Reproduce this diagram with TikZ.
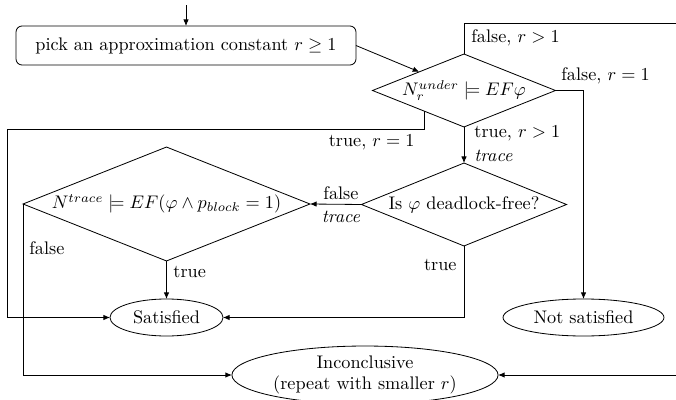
\documentclass[tikz,border=0pt]{standalone}
\usetikzlibrary{shapes.geometric,arrows.meta}

\begin{document}
\begin{tikzpicture}[x=0.5486pt,y=-0.5486pt,
  line width=0.45pt,
  arr/.style={-{Latex[length=3.6pt,width=3pt]}},
  decision/.style={draw,diamond,inner sep=0pt,outer sep=0pt},
  outcome/.style={draw,ellipse,inner sep=0pt,outer sep=0pt,align=center},
  stepbox/.style={draw,rectangle,rounded corners=3.3pt,inner sep=0pt,outer sep=0pt},
  lbl/.style={inner sep=0pt}]

\useasboundingbox (0,0) rectangle (676,400);
\clip (0,0) rectangle (676,400);

% nodes
\coordinate (start) at (186,5);
\node[stepbox,minimum width=186.5pt,minimum height=21.4pt] (pick) at (186,45.5)
  {pick an approximation constant $r \geq 1$};
\node[decision,shape aspect=2.5,minimum width=100.4pt,minimum height=40pt] (d1) at (464,90.5)
  {$N_r^{under} \models EF\varphi$};
\node[decision,shape aspect=2.47,minimum width=112.5pt,minimum height=45.5pt] (d2) at (464,204.5)
  {Is $\varphi$ deadlock-free?};
\node[decision,shape aspect=2.52,minimum width=157.4pt,minimum height=62.5pt] (d3) at (166.5,204)
  {$N^{trace} \models EF(\varphi \wedge p_{block} = 1)$};
\node[outcome,minimum width=62pt,minimum height=20.3pt] (sat) at (166.5,317.5) {Satisfied};
\node[outcome,minimum width=88.3pt,minimum height=20.3pt] (notsat) at (583.5,317.5) {Not satisfied};
\node[outcome,minimum width=146pt,minimum height=31.8pt] (inc) at (365,375)
  {Inconclusive\\(repeat with smaller $r$)};

\path (d1.west) -- (d1.south) coordinate[pos=0.565] (d1sw);

% connectors
\draw[arr] (start) -- (pick.north);
\draw[arr] (pick.east) -- (d1);
\draw[arr] (d1.north) -- (464,23) -- (690,23) |- (inc.east);
\draw[arr] (d1.east) -| (notsat.north);
\draw[arr] (d1sw) |- (7,129) |- (sat.west);
\draw[arr] (d1.south) -- (d2.north);
\draw[arr] (d2.west) -- (d3.east);
\draw[arr] (d2.south) |- (sat.east);
\draw[arr] (d3.south) -- (sat.north);
\draw[arr] (d3.west) |- (inc.west);

% labels
\node[lbl,anchor=west] (l1) at (471,38) {false, $r > 1$};
\node[lbl,anchor=west] (l2) at (561,76) {false, $r = 1$};
\node[lbl,anchor=east] (l3) at (415,142) {true, $r = 1$};
\node[lbl,anchor=west] (l4) at (474,133) {true, $r > 1$};
\node[lbl,anchor=west] (l5) at (474,156) {\textit{trace}};
\node[lbl] (l6) at (341,193) {false};
\node[lbl] (l7) at (341,217) {\textit{trace}};
\node[lbl,anchor=east] (l8) at (457,265) {true};
\node[lbl,anchor=west] (l9) at (173,272) {true};
\node[lbl,anchor=west] (l10) at (29,248) {false};
\end{tikzpicture}
\end{document}
